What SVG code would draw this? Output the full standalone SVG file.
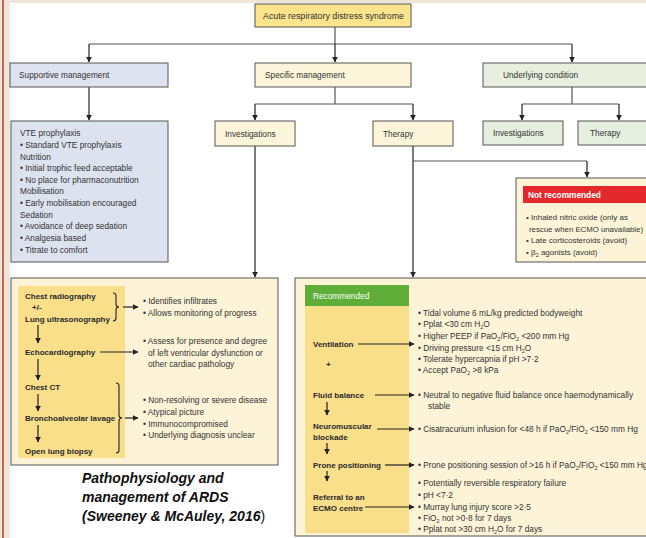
<svg xmlns="http://www.w3.org/2000/svg" width="646" height="538" viewBox="0 0 646 538">
<style>
.t{font-family:"Liberation Sans",Arial,sans-serif;font-size:8.3px;fill:#333}
.b{font-weight:bold;fill:#2a2a2a;font-size:8px}
.nr{font-size:8px}
.box{stroke:#555;stroke-width:1}
.ln{stroke:#555;stroke-width:1.2;fill:none}
.br{stroke:#222;stroke-width:1.1;fill:none}
.ar{stroke:#222;stroke-width:1.2;fill:none;marker-end:url(#ah)}
.cap{font-family:"Liberation Sans",Arial,sans-serif;font-size:14px;font-weight:bold;font-style:italic;fill:#111}
.s{font-size:5.5px}
</style>
<defs>
<marker id="ah" viewBox="0 0 10 10" refX="9" refY="5" markerWidth="5" markerHeight="5" orient="auto">
<path d="M0,0 L10,5 L0,10 z" fill="#222"/>
</marker>
</defs>
<rect x="0" y="0" width="646" height="538" fill="#efe6d8"/>
<rect x="10" y="3" width="636" height="535" fill="#fff"/>
<line x1="3" y1="0" x2="3" y2="538" stroke="#c0392b" stroke-width="1.5"/>

<g id="connectors">
<path class="ln" d="M335,27 V44 M89,44 H572"/>
<path class="ar" d="M89,44 V62"/>
<path class="ar" d="M335,44 V62"/>
<path class="ar" d="M572,44 V62"/>
<path class="ar" d="M89,87 V120"/>
<path class="ln" d="M335,87 V104 M255,104 H413"/>
<path class="ar" d="M255,104 V120"/>
<path class="ar" d="M413,104 V120"/>
<path class="ln" d="M572,87 V104 M522,104 H619"/>
<path class="ar" d="M522,104 V120"/>
<path class="ar" d="M619,104 V120"/>
<path class="ar" d="M255,146 V277"/>
<path class="ar" d="M413,146 V277"/>
<path class="ln" d="M413,161 H587"/>
<path class="ar" d="M587,161 V177"/>
</g>

<g id="ards">
<rect class="box" x="255" y="4" width="156" height="23" fill="#fbe48c"/>
<text class="t" x="263" y="18.5" textLength="141" lengthAdjust="spacingAndGlyphs">Acute respiratory distress syndrome</text>
</g>
<g id="supportive">
<rect class="box" x="10" y="63" width="158" height="24" fill="#dfe3f1"/>
<text class="t" x="19" y="78">Supportive management</text>
</g>
<g id="specific">
<rect class="box" x="255" y="63" width="156" height="24" fill="#fdf5da"/>
<text class="t" x="265" y="78">Specific management</text>
</g>
<g id="underlying">
<rect class="box" x="483" y="63" width="170" height="24" fill="#e8efdf"/>
<text class="t" x="503" y="78">Underlying condition</text>
</g>

<g id="supportive-detail">
<rect class="box" x="11" y="121" width="157" height="141" fill="#dde2ef"/>
<text class="t" x="20" y="136">VTE prophylaxis</text>
<text class="t" x="20" y="148">• Standard VTE prophylaxis</text>
<text class="t" x="20" y="159.5">Nutrition</text>
<text class="t" x="20" y="171">• Initial trophic feed acceptable</text>
<text class="t" x="20" y="182.5">• No place for pharmaconutrition</text>
<text class="t" x="20" y="194">Mobilisation</text>
<text class="t" x="20" y="206">• Early mobilisation encouraged</text>
<text class="t" x="20" y="217.5">Sedation</text>
<text class="t" x="20" y="229">• Avoidance of deep sedation</text>
<text class="t" x="20" y="241">• Analgesia based</text>
<text class="t" x="20" y="252.5">• Titrate to comfort</text>
</g>

<g id="investigations">
<rect class="box" x="215" y="121" width="80" height="25" fill="#fdf5da"/>
<text class="t" x="225" y="136.5">Investigations</text>
</g>
<g id="therapy">
<rect class="box" x="373" y="121" width="80" height="25" fill="#fdf5da"/>
<text class="t" x="383" y="136.5">Therapy</text>
</g>
<g id="investigations-underlying">
<rect class="box" x="483" y="121" width="80" height="24" fill="#e6eedf"/>
<text class="t" x="493" y="136">Investigations</text>
</g>
<g id="therapy-underlying">
<rect class="box" x="578" y="121" width="80" height="24" fill="#e6eedf"/>
<text class="t" x="590" y="136">Therapy</text>
</g>

<g id="not-recommended">
<rect class="box" x="516" y="178" width="140" height="84" fill="#fdf3d6"/>
<rect x="523" y="186" width="130" height="17" fill="#e5282b"/>
<text class="t b" x="528" y="198" style="fill:#fff;font-size:8.3px">Not recommended</text>
<text class="t nr" x="526" y="220">• Inhaled nitric oxide (only as</text>
<text class="t nr" x="529" y="231.5" textLength="114" lengthAdjust="spacingAndGlyphs">rescue when ECMO unavailable)</text>
<text class="t nr" x="526" y="243">• Late corticosteroids (avoid)</text>
<text class="t nr" x="526" y="254.5">• β<tspan class="s" dy="2">2</tspan><tspan dy="-2"> agonists (avoid)</tspan></text>
</g>

<g id="investigations-detail">
<rect class="box" x="11" y="278" width="267" height="187" fill="#fdf4d7"/>
<rect x="18" y="286" width="107" height="172" fill="#f9df8a"/>
<text class="t b" x="25" y="299">Chest radiography</text>
<text class="t b" x="32" y="310">+/-</text>
<text class="t b" x="25" y="322">Lung ultrasonography</text>
<text class="t b" x="25" y="355">Echocardiography</text>
<text class="t b" x="25" y="390">Chest CT</text>
<text class="t b" x="25" y="421">Bronchoalveolar lavage</text>
<text class="t b" x="25" y="454">Open lung biopsy</text>
<path class="br" d="M113,293 q3,0 3,3 v8 q0,3 3,3 q-3,0 -3,3 v8 q0,3 -3,3"/>
<path class="br" d="M116,383 q3,0 3,3 v29 q0,3 3,3 q-3,0 -3,3 v29 q0,3 -3,3"/>
<path class="ar" d="M123,307 H138"/>
<path class="ar" d="M100,352 H138"/>
<path class="ar" d="M125,418 H138"/>
<path class="ar" d="M38,325 V343"/>
<path class="ar" d="M38,359 V380"/>
<path class="ar" d="M38,394 V411"/>
<path class="ar" d="M38,425 V442"/>
<text class="t" x="143" y="304">• Identifies infiltrates</text>
<text class="t" x="143" y="315.5">• Allows monitoring of progress</text>
<text class="t" x="143" y="344">• Assess for presence and degree</text>
<text class="t" x="148" y="355.5">of left ventricular dysfunction or</text>
<text class="t" x="148" y="367">other cardiac pathology</text>
<text class="t" x="143" y="403">• Non-resolving or severe disease</text>
<text class="t" x="143" y="415">• Atypical picture</text>
<text class="t" x="143" y="426.5">• Immunocompromised</text>
<text class="t" x="143" y="438">• Underlying diagnosis unclear</text>
</g>

<g id="recommended">
<rect class="box" x="295" y="278" width="360" height="258" fill="#fdf4d7"/>
<rect x="305" y="306" width="104" height="227" fill="#f9df8a"/>
<rect x="305" y="285" width="104" height="21" fill="#5fae3a"/>
<text class="t" x="313" y="299" style="fill:#fff">Recommended</text>
<text class="t b" x="313" y="347">Ventilation</text>
<text class="t b" x="326" y="367">+</text>
<text class="t b" x="313" y="398">Fluid balance</text>
<text class="t b" x="313" y="429">Neuromuscular</text>
<text class="t b" x="313" y="440">blockade</text>
<text class="t b" x="313" y="468">Prone positioning</text>
<text class="t b" x="313" y="500">Referral to an</text>
<text class="t b" x="313" y="511">ECMO centre</text>
<path class="ar" d="M358,344 H414"/>
<path class="ar" d="M375,395 H414"/>
<path class="ar" d="M377,429 H414"/>
<path class="ar" d="M385,465 H414"/>
<path class="ar" d="M365,507 H414"/>
<path class="ar" d="M327,402 V415"/>
<path class="ar" d="M327,443 V454"/>
<path class="ar" d="M327,471 V481"/>
<text class="t" x="418" y="316">• Tidal volume 6 mL/kg predicted bodyweight</text>
<text class="t" x="418" y="327">• Pplat &lt;30 cm H<tspan class="s" dy="2">2</tspan><tspan dy="-2">O</tspan></text>
<text class="t" x="418" y="339">• Higher PEEP if PaO<tspan class="s" dy="2">2</tspan><tspan dy="-2">/FiO</tspan><tspan class="s" dy="2">2</tspan><tspan dy="-2"> &lt;200 mm Hg</tspan></text>
<text class="t" x="418" y="350.5">• Driving pressure &lt;15 cm  H<tspan class="s" dy="2">2</tspan><tspan dy="-2">O</tspan></text>
<text class="t" x="418" y="362">• Tolerate hypercapnia if pH &gt;7·2</text>
<text class="t" x="418" y="373">• Accept PaO<tspan class="s" dy="2">2</tspan><tspan dy="-2"> &gt;8 kPa</tspan></text>
<text class="t" x="418" y="398">• Neutral to negative fluid balance once haemodynamically</text>
<text class="t" x="428" y="409">stable</text>
<text class="t" x="418" y="432">• Cisatracurium infusion for &lt;48 h if PaO<tspan class="s" dy="2">2</tspan><tspan dy="-2">/FiO</tspan><tspan class="s" dy="2">2</tspan><tspan dy="-2"> &lt;150 mm Hg</tspan></text>
<text class="t" x="418" y="468">• Prone positioning session of &gt;16 h if PaO<tspan class="s" dy="2">2</tspan><tspan dy="-2">/FiO</tspan><tspan class="s" dy="2">2</tspan><tspan dy="-2"> &lt;150 mm Hg</tspan></text>
<text class="t" x="418" y="486">• Potentially reversible respiratory failure</text>
<text class="t" x="418" y="498">• pH &lt;7·2</text>
<text class="t" x="418" y="510">• Murray lung injury score &gt;2·5</text>
<text class="t" x="418" y="521">• FiO<tspan class="s" dy="2">2</tspan><tspan dy="-2"> not &gt;0·8 for 7 days</tspan></text>
<text class="t" x="418" y="532">• Pplat not &gt;30 cm H<tspan class="s" dy="2">2</tspan><tspan dy="-2">O for 7 days</tspan></text>
</g>

<g id="caption">
<text class="cap" x="82" y="483">Pathophysiology and</text>
<text class="cap" x="82" y="502">management of ARDS</text>
<text class="cap" x="82" y="521">(Sweeney &amp; McAuley, 2016<tspan style="font-weight:normal;font-style:normal">)</tspan></text>
</g>
</svg>
